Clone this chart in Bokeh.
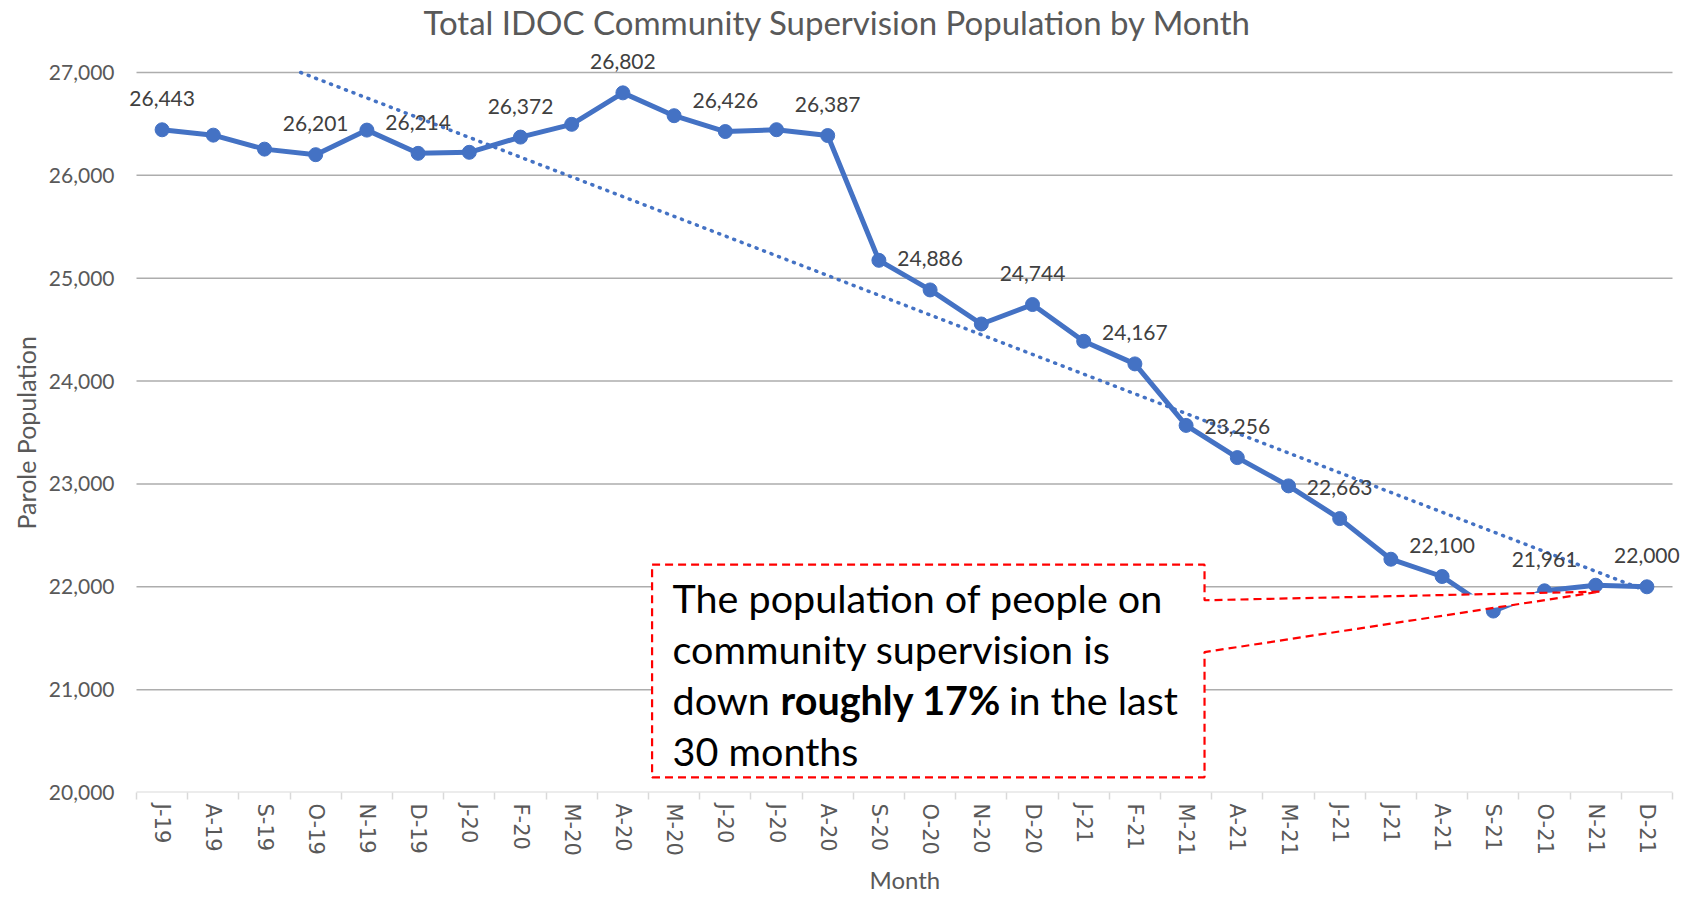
import numpy as np
from bokeh.plotting import figure
from bokeh.models import (Range1d, FixedTicker, NumeralTickFormatter,
                          ColumnDataSource, PolyAnnotation, Label, LabelSet, Title)
from bokeh.core.properties import value
from bokeh.embed import file_html
from bokeh.resources import INLINE

# ---------------- data ----------------
months = ["J-19", "A-19", "S-19", "O-19", "N-19", "D-19", "J-20", "F-20", "M-20", "A-20",
          "M-20", "J-20", "J-20", "A-20", "S-20", "O-20", "N-20", "D-20", "J-21", "F-21",
          "M-21", "A-21", "M-21", "J-21", "J-21", "A-21", "S-21", "O-21", "N-21", "D-21"]
population = [26443, 26391, 26255, 26201, 26440, 26214, 26224, 26372, 26496, 26802,
              26580, 26426, 26444, 26387, 25174, 24886, 24555, 24744, 24387, 24167,
              23569, 23256, 22981, 22663, 22268, 22100, 21764, 21961, 22015, 22000]
labeled_idx = [0, 3, 5, 7, 9, 11, 13, 15, 17, 19, 21, 23, 25, 27, 29]
y_ticks = [20000, 21000, 22000, 23000, 24000, 25000, 26000, 27000]

title_text = "Total IDOC Community Supervision Population by Month"
x_title = "Month"
y_title = "Parole Population"
note_lines = ["The population of people on", "community supervision is",
              "down", "roughly 17%", "in the last", "30 months"]

# ---------------- styling / layout ----------------
BLUE = "#4472C4"
GREY_TXT = "#595959"
LABEL_TXT = "#404040"
FONT = "Lato"

W, H = 1690, 898
PLOT_L, PLOT_T, PLOT_R, PLOT_B = 136, 72, 1672, 792   # visible plot area on the page
PAD_LR = 16                                           # frame padding so labels are not clipped
FL, FR, FT, FB = PLOT_L - PAD_LR, PLOT_R + PAD_LR, 0, PLOT_B

n = len(months)
y_lo, y_hi = y_ticks[0], y_ticks[-1]
px_per_cat = (PLOT_R - PLOT_L) / n
px_per_unit = (PLOT_B - PLOT_T) / (y_hi - y_lo)
x_pad = PAD_LR / px_per_cat
y_top = y_hi + (PLOT_T - FT) / px_per_unit

idx = list(range(n))
src = ColumnDataSource(dict(x=idx, y=population))
lab_src = ColumnDataSource(dict(
    x=[idx[i] for i in labeled_idx],
    y=[population[i] for i in labeled_idx],
    t=[f"{population[i]:,}" for i in labeled_idx],
))

p = figure(width=W, height=H, output_backend="svg", toolbar_location=None,
           x_range=Range1d(-0.5 - x_pad, n - 0.5 + x_pad), y_range=Range1d(y_lo, y_top),
           min_border_left=FL, min_border_right=W - FR, min_border_top=FT,
           min_border_bottom=H - FB)
p.outline_line_color = None
p.background_fill_color = "white"
p.border_fill_color = "white"
p.xgrid.visible = False
p.ygrid.visible = False

# x axis (labels + boundary tick marks)
p.xaxis.ticker = FixedTicker(ticks=idx, minor_ticks=[i - 0.5 for i in range(n + 1)])
p.xaxis.major_label_overrides = {i: m for i, m in enumerate(months)}
p.xaxis.major_label_orientation = -np.pi / 2
p.xaxis.major_tick_in = 0
p.xaxis.major_tick_out = 0
p.xaxis.minor_tick_in = 0
p.xaxis.minor_tick_out = 7
p.xaxis.minor_tick_line_color = "#D9D9D9"
p.xaxis.minor_tick_line_width = 1.5
p.xaxis.axis_line_color = None
p.xaxis.major_label_text_font = "DejaVu Sans"
p.xaxis.major_label_text_font_size = "21px"
p.xaxis.major_label_text_color = GREY_TXT
p.xaxis.major_label_standoff = 4

# y axis (labels only)
p.yaxis.ticker = FixedTicker(ticks=y_ticks)
p.yaxis.formatter = NumeralTickFormatter(format="0,0")
p.yaxis.axis_line_color = None
p.yaxis.major_tick_line_color = None
p.yaxis.major_tick_out = 0
p.yaxis.major_tick_in = 0
p.yaxis.minor_tick_line_color = None
p.yaxis.major_label_text_font = FONT
p.yaxis.major_label_text_font_size = "21px"
p.yaxis.major_label_text_color = GREY_TXT
p.yaxis.major_label_standoff = 22 - PAD_LR

# horizontal grid lines and the category axis line, spanning the categories only
p.segment(x0=[-0.5] * (len(y_ticks) - 1), x1=[n - 0.5] * (len(y_ticks) - 1),
          y0=y_ticks[1:], y1=y_ticks[1:], line_color="#ADADAD", line_width=1.5)
p.segment(x0=[-0.5], x1=[n - 0.5], y0=[y_lo], y1=[y_lo], line_color="#D9D9D9", line_width=2)

# series
p.line("x", "y", source=src, line_color=BLUE, line_width=5)
p.scatter("x", "y", source=src, size=14, fill_color=BLUE, line_color=BLUE)

# linear trend, clipped at the top of the value axis
slope, intercept = np.polyfit(idx, population, 1)
x_start = max(0.0, (y_hi - intercept) / slope) if slope < 0 else 0.0
trend_x = [x_start, float(idx[-1])]
trend_y = [float(slope * x + intercept) for x in trend_x]
p.line(trend_x, trend_y, line_color=BLUE, line_width=3.5, line_dash="1 7", line_cap="round")

# data labels
p.add_layout(LabelSet(x="x", y="y", text="t", source=lab_src, text_align="center",
                      text_baseline="middle", y_offset=31, text_font=value(FONT),
                      text_font_size=value("21px"), text_color=value(LABEL_TXT)))

# callout box (annotation, data units)
box_l, box_r, box_t, box_b = 9.57, 20.36, 22215, 20148
wedge_y1, wedge_y2, tip_x, tip_y = 21869, 21365, 28.09, 21953
callout = PolyAnnotation(
    xs=[box_l, box_r, box_r, tip_x, box_r, box_r, box_l],
    ys=[box_t, box_t, wedge_y1, tip_y, wedge_y2, box_b, box_b],
    fill_color="white", fill_alpha=1.0, line_color="#FF0000", line_alpha=1.0,
    line_width=2.2, line_dash="8 5")
p.add_layout(callout)

NOTE_SIZE = "39.5px"
note_ys = [21900, 21397, 20903, 20410]
def note(x, y, text, style="normal"):
    p.add_layout(Label(x=x, y=y, text=text, text_font=FONT, text_font_size=NOTE_SIZE,
                       text_font_style=style, text_color="black", text_baseline="middle",
                       text_align="left"))
note(9.97, note_ys[0], note_lines[0])
note(9.97, note_ys[1], note_lines[1])
note(9.97, note_ys[2], note_lines[2])
note(12.08, note_ys[2], note_lines[3], "bold")
note(16.54, note_ys[2], note_lines[4])
note(9.97, note_ys[3], note_lines[5])

# chart title inside the (extended) frame; screen units are frame-relative, y up
p.add_layout(Label(x=837 - FL, y=FB - 21, x_units="screen", y_units="screen", text=title_text,
                   text_font=FONT, text_font_size="33px", text_color=GREY_TXT,
                   text_align="center", text_baseline="middle"))

# axis titles
p.add_layout(Title(text=y_title, align="left", offset=263, standoff=10,
                   text_font=FONT, text_font_size="25px", text_font_style="normal",
                   text_color=GREY_TXT), "left")
p.add_layout(Title(text=x_title, align="left", offset=749, standoff=8,
                   text_font=FONT, text_font_size="24px", text_font_style="normal",
                   text_color=GREY_TXT), "below")

open("out.html", "w").write(file_html(p, INLINE))
